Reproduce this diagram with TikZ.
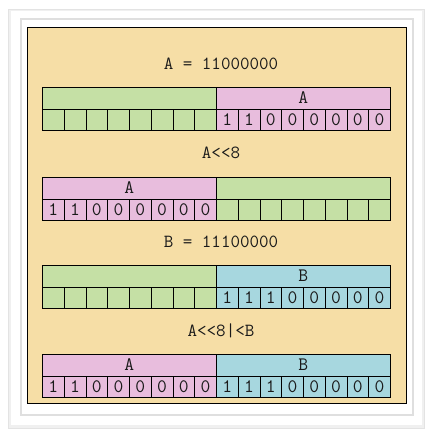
\documentclass[tikz,border=0pt]{standalone}
\usepackage{fontspec}
\definecolor{beige}{HTML}{F6DEA6}
\definecolor{bgreen}{HTML}{C5E0A5}
\definecolor{bpink}{HTML}{E8BDDD}
\definecolor{bteal}{HTML}{A7D7DF}
\definecolor{txt}{HTML}{1A1A1A}
\tikzset{
  half/.style={draw, line width=0.6pt, minimum width=174pt, minimum height=21.5pt, inner sep=0pt, anchor=north west, font=\ttfamily\fontsize{19}{19}\selectfont, text=txt},
  cell/.style={draw, line width=0.6pt, minimum width=21.75pt, minimum height=21.5pt, inner sep=0pt, anchor=north west, font=\ttfamily\fontsize{19}{19}\selectfont, text=txt},
  title/.style={font=\ttfamily\fontsize{18.5}{18.5}\selectfont, text=txt, inner sep=1pt}
}
\begin{document}
\begin{tikzpicture}[x=1pt,y=-1pt]
\useasboundingbox (0,0) rectangle (433,436);
\fill[gray!22] (8,9) rectangle (425,429);
\fill[gray!12] (9,10) rectangle (424,428);
\fill[white] (11,11) rectangle (422,425);
\draw[gray!25, line width=1.5pt] (21,19) rectangle (413,415);
\draw[fill=beige, line width=0.8pt] (27,27) rectangle (406,403);

% Row 1
\node[title] (t1) at (221,64) {A = 11000000};
\node[half, fill=bgreen] (r1l) at (42,87) {};
\node[half, fill=bpink] (r1r) at (216,87) {A};
\foreach \i in {1,...,8} \node[cell, fill=bgreen] (r1a\i) at ({42+(\i-1)*21.75},108.5) {};
\foreach \b [count=\i] in {1,1,0,0,0,0,0,0} \node[cell, fill=bpink] (r1b\i) at ({216+(\i-1)*21.75},108.5) {\b};

% Row 2
\node[title] (t2) at (221,153) {A{<}{<}8};
\node[half, fill=bpink] (r2l) at (42,177) {A};
\node[half, fill=bgreen] (r2r) at (216,177) {};
\foreach \b [count=\i] in {1,1,0,0,0,0,0,0} \node[cell, fill=bpink] (r2a\i) at ({42+(\i-1)*21.75},198.5) {\b};
\foreach \i in {1,...,8} \node[cell, fill=bgreen] (r2b\i) at ({216+(\i-1)*21.75},198.5) {};

% Row 3
\node[title] (t3) at (221,242) {B = 11100000};
\node[half, fill=bgreen] (r3l) at (42,265) {};
\node[half, fill=bteal] (r3r) at (216,265) {B};
\foreach \i in {1,...,8} \node[cell, fill=bgreen] (r3a\i) at ({42+(\i-1)*21.75},286.5) {};
\foreach \b [count=\i] in {1,1,1,0,0,0,0,0} \node[cell, fill=bteal] (r3b\i) at ({216+(\i-1)*21.75},286.5) {\b};

% Row 4
\node[title] (t4) at (221,331) {A{<}{<}8|{<}B};
\node[half, fill=bpink] (r4l) at (42,354) {A};
\node[half, fill=bteal] (r4r) at (216,354) {B};
\foreach \b [count=\i] in {1,1,0,0,0,0,0,0} \node[cell, fill=bpink] (r4a\i) at ({42+(\i-1)*21.75},375.5) {\b};
\foreach \b [count=\i] in {1,1,1,0,0,0,0,0} \node[cell, fill=bteal] (r4b\i) at ({216+(\i-1)*21.75},375.5) {\b};
\end{tikzpicture}
\end{document}
